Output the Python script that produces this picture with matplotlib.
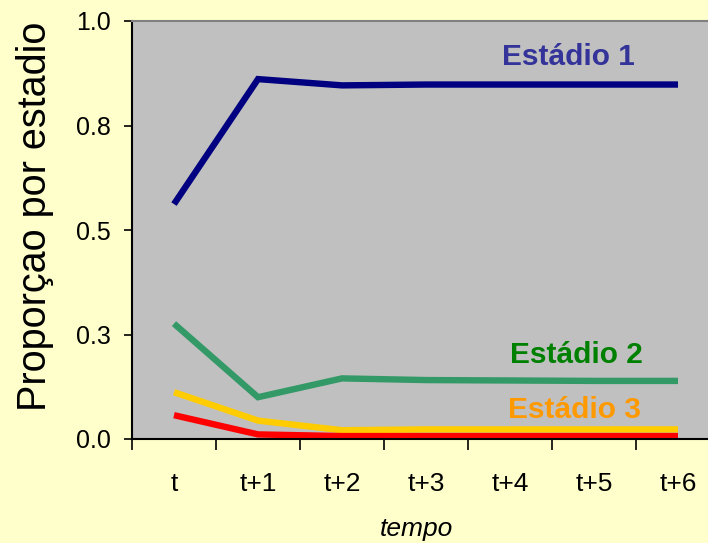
import matplotlib
matplotlib.use("Agg")
import matplotlib.pyplot as plt

plt.rcParams['font.family'] = ['Liberation Sans', 'DejaVu Sans']

periods = ["t", "t+1", "t+2", "t+3", "t+4", "t+5", "t+6"]
estadio1 = [0.562, 0.861, 0.846, 0.848, 0.848, 0.848, 0.848]
estadio2 = [0.276, 0.100, 0.145, 0.141, 0.140, 0.139, 0.139]
estadio3 = [0.112, 0.044, 0.021, 0.023, 0.023, 0.023, 0.023]
estadio4 = [0.057, 0.011, 0.007, 0.007, 0.007, 0.007, 0.007]
y_ticks = [0.0, 0.25, 0.5, 0.75, 1.0]
y_tick_labels = ["0.0", "0.3", "0.5", "0.8", "1.0"]

bg = "#FFFFCC"
fig = plt.figure(figsize=(7.08, 5.43), dpi=100, facecolor=bg)
ax = fig.add_axes([132/708, 104/543, 588/708, 418/543])
ax.set_facecolor("#C0C0C0")

x = list(range(len(periods)))
style = dict(lw=4.6, solid_joinstyle="miter", solid_capstyle="butt")
ax.plot(x, estadio1, color="#000080", **style)
ax.plot(x, estadio2, color="#339966", **style)
ax.plot(x, estadio3, color="#FFCC00", **style)
ax.plot(x, estadio4, color="#FF0000", **style)

ax.set_xlim(-0.5, len(periods) - 0.5)
ax.set_ylim(0, 1.0)

ax.set_xticks([i - 0.5 for i in range(len(periods) + 1)])
ax.set_xticklabels([])
ax.set_xticks(x, minor=True)
ax.set_xticklabels(periods, minor=True, fontsize=19)
ax.tick_params(axis='x', which='major', direction='out', length=8, width=1.2, color='black')
ax.tick_params(axis='x', which='minor', length=0, pad=24)

ax.set_yticks(y_ticks)
ax.set_yticklabels(y_tick_labels, fontsize=18)
ax.tick_params(axis='y', direction='out', length=6, width=1.2, pad=9)

for side in ("left", "bottom"):
    ax.spines[side].set_color("black")
    ax.spines[side].set_linewidth(1.5)
ax.spines["top"].set_color("#808080")
ax.spines["top"].set_linewidth(1.5)
ax.spines["right"].set_visible(False)

ax.set_ylabel("Proporçao por estadio", fontsize=28.5)
ax.yaxis.set_label_coords(-0.133, 0.532)
ax.set_xlabel("tempo", fontsize=19, style="italic")
ax.xaxis.set_label_coords(0.483, -0.187)

ax.text(4.70, 0.915, "Estádio 1", color="#333399", fontsize=21.5, fontweight="bold",
        ha="center", va="center")
ax.text(4.79, 0.201, "Estádio 2", color="#008000", fontsize=21.5, fontweight="bold",
        ha="center", va="center")
ax.text(4.77, 0.069, "Estádio 3", color="#FF9900", fontsize=21.5, fontweight="bold",
        ha="center", va="center")

fig.savefig("out.png", dpi=100, facecolor=bg)
